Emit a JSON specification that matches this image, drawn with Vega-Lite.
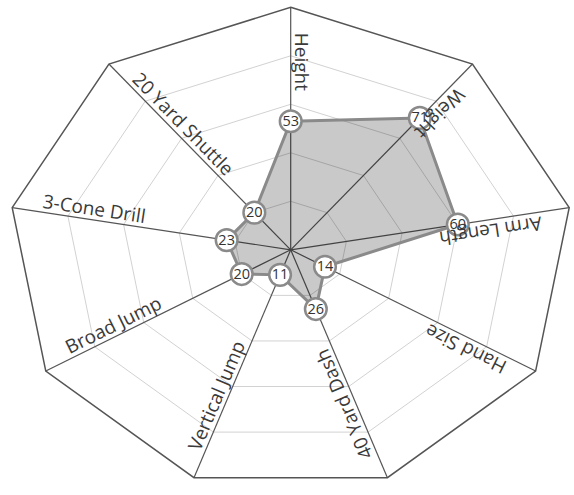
{
  "$schema": "https://vega.github.io/schema/vega-lite/v6.json",
  "width": 574,
  "height": 495,
  "padding": 0,
  "autosize": {"type": "none"},
  "background": "white",
  "config": {"view": {"stroke": null}},
  "data": {
    "values": [
      {"metric": "Height", "value": 53},
      {"metric": "Weight", "value": 71},
      {"metric": "Arm Length", "value": 60},
      {"metric": "Hand Size", "value": 14},
      {"metric": "40 Yard Dash", "value": 26},
      {"metric": "Vertical Jump", "value": 11},
      {"metric": "Broad Jump", "value": 20},
      {"metric": "3-Cone Drill", "value": 23},
      {"metric": "20 Yard Shuttle", "value": 20}
    ]
  },
  "transform": [
    {"window": [{"op": "row_number", "as": "rn"}]},
    {"calculate": "(datum.rn - 1) * 2 * PI / 9", "as": "theta"},
    {"calculate": "sin(datum.theta)", "as": "sx"},
    {"calculate": "cos(datum.theta)", "as": "cy"},
    {"calculate": "datum.value / 100 * datum.sx", "as": "px"},
    {"calculate": "datum.value / 100 * datum.cy", "as": "py"},
    {"calculate": "0.895 * datum.sx", "as": "lx"},
    {"calculate": "0.895 * datum.cy", "as": "ly"},
    {"calculate": "atan2(242.5 * datum.cy, -282.8 * datum.sx) * 180 / PI", "as": "lang"}
  ],
  "layer": [
    {
      "transform": [
        {"calculate": "[0.2, 0.4, 0.6, 0.8]", "as": "lv"},
        {"flatten": ["lv"]},
        {"calculate": "datum.lv * datum.sx", "as": "gx"},
        {"calculate": "datum.lv * datum.cy", "as": "gy"}
      ],
      "mark": {"type": "line", "interpolate": "linear-closed", "stroke": "#d2d2d2", "strokeWidth": 1},
      "encoding": {
        "x": {"field": "gx", "type": "quantitative", "scale": {"domain": [-1, 1], "range": [7.9, 573.5], "nice": false, "zero": false}, "axis": null},
        "y": {"field": "gy", "type": "quantitative", "scale": {"domain": [-1, 1], "range": [492.3, 7.3], "nice": false, "zero": false}, "axis": null},
        "detail": {"field": "lv", "type": "nominal"},
        "order": {"field": "rn", "type": "quantitative"}
      }
    },
    {
      "mark": {"type": "line", "interpolate": "linear-closed", "stroke": "#555555", "strokeWidth": 1.5},
      "encoding": {
        "x": {"field": "sx", "type": "quantitative"},
        "y": {"field": "cy", "type": "quantitative"},
        "order": {"field": "rn", "type": "quantitative"}
      }
    },
    {
      "mark": {"type": "rule", "stroke": "#555555", "strokeWidth": 1.2},
      "encoding": {
        "x": {"field": "sx", "type": "quantitative"},
        "y": {"field": "cy", "type": "quantitative"},
        "x2": {"datum": 0},
        "y2": {"datum": 0}
      }
    },
    {
      "mark": {"type": "line", "interpolate": "linear-closed", "fill": "#000000", "fillOpacity": 0.21, "stroke": "#8a8a8a", "strokeWidth": 3},
      "encoding": {
        "x": {"field": "px", "type": "quantitative"},
        "y": {"field": "py", "type": "quantitative"},
        "order": {"field": "rn", "type": "quantitative"}
      }
    },
    {
      "mark": {"type": "circle", "size": 470, "fill": "white", "stroke": "#8a8a8a", "strokeWidth": 2.5, "opacity": 1},
      "encoding": {
        "x": {"field": "px", "type": "quantitative"},
        "y": {"field": "py", "type": "quantitative"}
      }
    },
    {
      "mark": {"type": "text", "font": "Open Sans", "fontSize": 14.5, "fill": "#333333", "align": "center", "baseline": "middle", "dy": 0.5},
      "encoding": {
        "x": {"field": "px", "type": "quantitative"},
        "y": {"field": "py", "type": "quantitative"},
        "text": {"field": "value", "type": "quantitative"}
      }
    },
    {
      "mark": {"type": "text", "font": "Open Sans", "fontSize": 19, "fill": "#3a3a3a", "align": "left", "baseline": "alphabetic", "dy": -4.5},
      "encoding": {
        "x": {"field": "lx", "type": "quantitative"},
        "y": {"field": "ly", "type": "quantitative"},
        "text": {"field": "metric", "type": "nominal"},
        "angle": {"field": "lang", "type": "quantitative", "scale": null}
      }
    }
  ]
}
